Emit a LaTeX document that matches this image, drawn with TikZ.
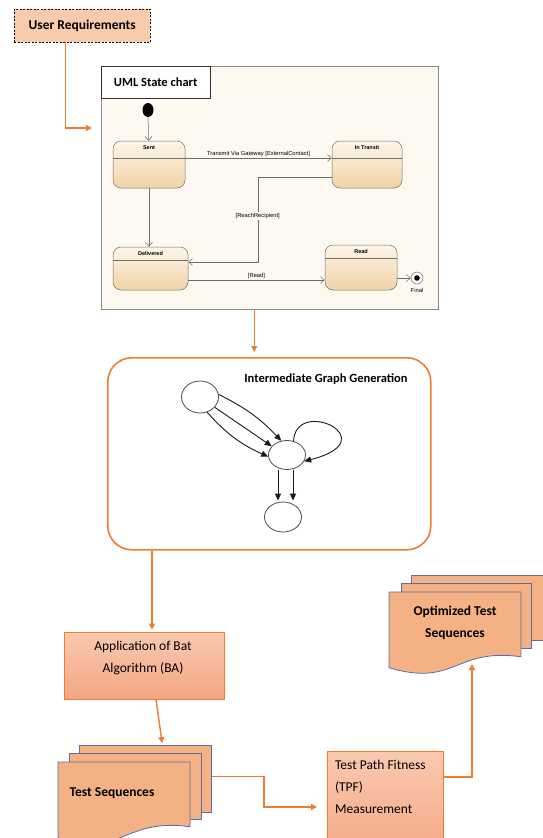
\documentclass[tikz,border=0pt]{standalone}
\usepackage{fontspec}
\setmainfont{Carlito}
\newfontfamily\umlfont{Liberation Sans}
\usetikzlibrary{arrows.meta,positioning,shapes.geometric}

\definecolor{flow}{HTML}{ED7D31}
\definecolor{reqfill}{HTML}{F8CBAD}
\definecolor{proctop}{HTML}{F9C9B0}
\definecolor{procbot}{HTML}{F4A683}
\definecolor{docfill}{HTML}{F4B183}
\definecolor{docline}{HTML}{5A6FA6}
\definecolor{umlback}{HTML}{FDF9F0}
\definecolor{statetop}{HTML}{FEF6EA}
\definecolor{statebot}{HTML}{F0D2A6}
\definecolor{umlgray}{HTML}{6E6E6E}

\tikzset{
  big/.style={font=\fontsize{13.5}{22}\selectfont},
  bigbold/.style={font=\fontsize{13.5}{22}\selectfont\bfseries},
  flowline/.style={draw=flow, line width=1.4pt, -{Triangle[length=6pt,width=6pt]}},
  process/.style={draw=flow, line width=0.8pt, top color=proctop, bottom color=procbot},
  docpage/.style={draw=docline, line width=0.8pt, fill=docfill, anchor=north west},
  umltext/.style={font=\umlfont\fontsize{5.8}{7}\selectfont, inner sep=1pt},
  statename/.style={font=\umlfont\bfseries\fontsize{5.5}{7}\selectfont, inner sep=1pt, anchor=north, yshift=-4pt},
  state/.style={draw=umlgray, line width=0.5pt, rounded corners=8pt, top color=statetop, bottom color=statebot, inner sep=0pt},
  divider/.style={path picture={\draw[umlgray, line width=0.5pt] ([yshift=-#1]path picture bounding box.north west) -- ([yshift=-#1]path picture bounding box.north east);}},
  umlline/.style={draw=umlgray, line width=0.5pt, -{Straight Barb[length=4pt,width=7pt]}},
  graphnode/.style={ellipse, draw=black!70, line width=0.8pt, minimum width=37pt, minimum height=30pt, inner sep=0pt},
  graphedge/.style={draw=black!90, line width=0.9pt, -{Triangle[length=7pt,width=6pt]}},
}

% front page of a document stack: x, y (top left), width, height
\newcommand{\docfront}[4]{\filldraw[draw=docline, line width=0.8pt, fill=docfill] (#1,#2) -- ({#1+#3},#2) -- ({#1+#3},{#2+0.8*#4}) .. controls ({#1+0.5*#3},{#2+0.684*#4}) and ({#1+0.5*#3},{#2+1.18*#4}) .. (#1,{#2+0.934*#4}) -- cycle;}

\begin{document}
\begin{tikzpicture}[x=1pt, y=-1pt]
\useasboundingbox (0,0) rectangle (542,838);

% requirements and state chart
\node [draw, dash pattern=on 2pt off 1.5pt, fill=reqfill, anchor=north west, minimum width=136pt, minimum height=33pt, bigbold] (req) at (14,9) {User Requirements};
\node [draw=black!45, fill=umlback, anchor=north west, minimum width=337pt, minimum height=243pt] (uml) at (101,66) {};
\node [draw=black!80, fill=white, anchor=north west, minimum width=109pt, minimum height=32pt, font=\fontsize{12.5}{15}\selectfont\bfseries] (umltitle) at (uml.north west) {UML State chart};
\coordinate (umlin) at (92,128);

\node [ellipse, fill=black, minimum width=11pt, minimum height=14pt, inner sep=0pt] (init) at (148,110) {};
\node [state, divider=17pt, minimum width=72pt, minimum height=47pt, label={[statename]north:Sent}] (sent) at (149,164.5) {};
\node [state, divider=17pt, minimum width=70pt, minimum height=47pt, label={[statename]north:In Transit}] (transit) at (367,164.5) {};
\node [state, divider=13pt, minimum width=75pt, minimum height=43pt, label={[statename]north:Delivered}] (deliv) at (150.5,268.5) {};
\node [state, divider=13pt, minimum width=72pt, minimum height=45pt, label={[statename]north:Read}] (read) at (361,267.5) {};
\node [circle, draw=black!70, fill=white, minimum size=12pt, inner sep=0pt,
       label={[umltext, yshift=-3pt]below:Final}] (final) at (417,278) {};
\fill (final.center) circle (2.8pt);

\draw [umlline] (init) -- (sent);
\draw [umlline] ([yshift=6.5pt]sent.east) -- node [umltext, above] {Transmit Via Gateway [ExternalContact]} ([yshift=6.5pt]transit.west);
\draw [umlline] (sent.south) -- (sent.south |- deliv.north);
\draw [umlline] ([yshift=-12.5pt]transit.west) -- ++(-74,0) |- node [umltext, fill=umlback, pos=0.23] {[ReachRecipient]} ([yshift=6.5pt]deliv.east);
\draw [umlline] ([yshift=-11.5pt]deliv.east) -- node [umltext, above] {[Read]} ([yshift=-11.5pt]deliv.east -| read.west);
\draw [umlline] (read.east |- final) -- (final);

% intermediate graph
\node [draw=flow, line width=1.6pt, rounded corners=24pt, anchor=north west, minimum width=323pt, minimum height=192pt] (inter) at (107,357) {};
\node [font=\fontsize{12.5}{15}\selectfont\bfseries] (intertitle) at (326,379) {Intermediate Graph Generation};
\node [graphnode, minimum height=32pt] (ga) at (200,397) {};
\node [graphnode, minimum height=29pt] (gb) at (287,455) {};
\node [graphnode] (gc) at (283,517) {};
\draw [graphedge] (ga.-65) to [bend right=12] (gb.185);
\draw [graphedge] (ga.-35) -- (gb.150);
\draw [graphedge] (ga.8) to [bend left=10] (gb.112);
\draw [graphedge] (gb.65) .. controls (296,396) and (388,440) .. (gb.-20);
\draw [graphedge, shorten >=1pt] ([xshift=-9pt]gb.south) -- ([xshift=-9pt]gb.south |- gc.north);
\draw [graphedge, shorten >=1pt] ([xshift=6pt]gb.south) -- ([xshift=6pt]gb.south |- gc.north);

% bat algorithm and sequences
\node [process, minimum width=160pt, minimum height=67pt] (batbox) at (144,665.5) {};
\node [big, align=center] (bat) at (143,658) {Application of Bat\\Algorithm (BA)};

\node [docpage, minimum width=132pt, minimum height=67pt] (tsback) at (79,745) {};
\node [docpage, minimum width=132pt, minimum height=66pt] (tsmid) at (69,753) {};
\docfront{58}{762}{132}{81}
\node [bigbold] (tstext) at (112,793) {Test Sequences};

\node [process, anchor=north west, minimum width=116pt, minimum height=110pt] (tpf) at (327,751) {};
\node [big, align=left, anchor=north west] (tpftext) at (331.5,757) {Test Path Fitness\\(TPF)\\Measurement};
\coordinate (tpfin) at (317,807);

\node [docpage, minimum width=132pt, minimum height=65pt] (optback) at (411,575) {};
\node [docpage, minimum width=130pt, minimum height=65pt] (optmid) at (401,583) {};
\docfront{389}{592}{132}{81}
\node [bigbold, align=center] (opttext) at (455,623) {Optimized Test\\Sequences};
\coordinate (optin) at (472,664);

% flow arrows
\draw [flowline] ([xshift=-17pt]req.south) |- (umlin);
\draw [flowline, shorten >=5pt] ([xshift=-15.5pt]uml.south) -- ([xshift=-15.5pt]uml.south |- inter.north);
\draw [flowline, shorten >=2pt] ([xshift=8pt]batbox.north |- inter.south) -- ([xshift=8pt]batbox.north);
\draw [flowline, shorten >=2pt] ([xshift=12pt]batbox.south) -- ([xshift=17pt]tsback.north);
\draw [flowline] ([yshift=2.5pt]tsback.east) -- ++(52,0) |- (tpfin);
\draw [flowline] ([yshift=-26pt]tpf.north east) -| (optin);
\end{tikzpicture}
\end{document}
